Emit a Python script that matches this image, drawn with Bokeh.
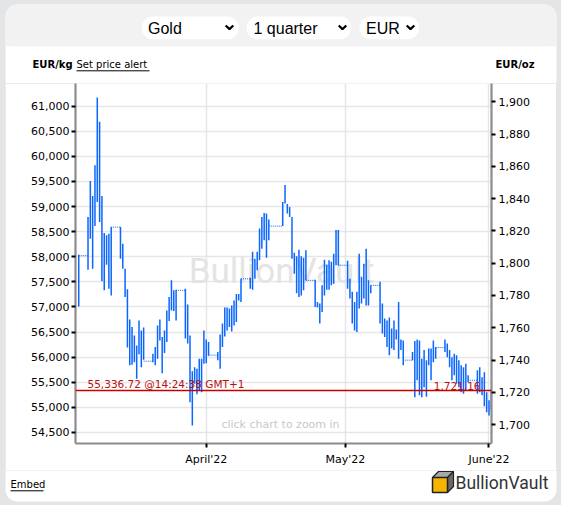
import pandas as pd
from bokeh.plotting import figure
from bokeh.layouts import column
from bokeh.models import (Range1d, LinearAxis, FixedTicker, NumeralTickFormatter, Span,
                          Label, ColumnDataSource, GlobalInlineStyleSheet)
from bokeh.core.properties import value
from bokeh.embed import file_html
from bokeh.resources import INLINE

# ---------------- data (EUR per kg, 12-hourly high/low strokes) ----------------
OZ_PER_KG = 32.1507466

block_start = ["2022-03-04 12:00", "2022-03-06 12:00", "2022-03-13 12:00", "2022-03-20 12:00",
               "2022-03-27 12:00", "2022-04-03 12:00", "2022-04-10 12:00", "2022-04-17 12:00",
               "2022-04-24 12:00", "2022-05-01 12:00", "2022-05-08 12:00", "2022-05-15 12:00",
               "2022-05-22 12:00", "2022-05-29 12:00"]

block_high = [
    [58040],
    [58790, 59510, 59210, 59820, 61170, 60690, 59210, 58470, 58430, 58460, 58590],
    [58590, 58260, 57760, 57350, 56750, 56600, 56430, 56230, 56730, 56530, 56590],
    [56070, 56200, 56630, 56750, 56400, 56530, 56930, 57200, 57530, 57330, 57340],
    [57360, 57050, 56430, 55720, 55800, 55770, 55970, 55970, 56530, 56350, 56300],
    [56100, 56450, 56670, 56990, 56990, 56970, 57030, 57130, 57260, 57260, 57560],
    [57580, 58100, 57960, 58100, 58560, 58790, 58870, 58860, 58740],
    [59090, 59430, 59050, 58990, 58790, 58080, 58010, 58140, 58010, 57980, 58130],
    [57540, 57100, 57070, 57430, 57940, 57840, 57930, 57900, 58060, 58530, 58530],
    [57920, 57560, 57300, 57100, 57300, 58060, 57600, 57860, 58160, 57530, 57430],
    [57500, 57070, 56770, 56730, 56790, 56570, 56730, 56550, 57100, 56350, 56330],
    [56100, 56320, 56350, 56330, 55970, 56140, 55940, 56170, 56170, 56330, 56200],
    [56350, 56270, 56140, 56000, 56070, 56040, 55940, 55840, 55800, 55870, 55640],
    [55740, 55800, 55600, 55700, 55300, 55140, 55370],
]
block_low = [
    [57010],
    [57740, 58360, 57760, 58610, 59090, 58690, 57510, 57330, 57840, 57360, 57230],
    [57960, 57760, 57200, 56190, 55840, 55850, 55900, 55570, 56060, 55800, 55950],
    [55900, 55840, 55970, 56330, 55680, 56080, 56300, 56720, 56930, 56920, 56730],
    [56370, 56270, 55100, 54640, 55470, 55260, 55340, 55300, 55870, 55880, 56030],
    [55940, 55770, 56200, 56410, 56530, 56600, 56510, 56630, 56700, 57130, 57100],
    [57360, 57340, 57560, 57730, 57930, 58160, 58330, 57980, 58330],
    [58610, 59060, 58860, 58790, 57960, 57660, 57270, 57200, 57230, 57330, 57530],
    [57000, 56990, 56670, 56900, 57230, 57340, 57340, 57430, 57460, 57830, 57830],
    [57360, 57170, 56670, 56530, 56500, 56970, 57070, 57170, 57030, 57030, 57270],
    [56670, 56470, 56400, 56200, 56040, 56170, 56140, 56350, 55970, 56140, 55840],
    [55940, 55200, 55540, 55240, 55200, 55400, 55210, 55840, 55540, 55900, 55970],
    [56100, 56000, 55800, 55540, 55640, 55470, 55400, 55300, 55270, 55340, 55500],
    [55270, 55300, 55240, 55020, 54900, 54840, 54940],
]
# flat level held over each market closure (weekends / Good Friday)
gap_level = [58020, 58590, 55920, 57330, 56040, 57560, 58610, 57530, 57830, 57430,
             55940, 56190, 55540]

last_price_kg = 55336.72
last_time_text = "@14:24:38 GMT+1"

month_tick_day = [31, 61, 92]          # days after 1 March 2022
month_tick_label = ["April'22", "May'22", "June'22"]
kg_ticks = list(range(54500, 61001, 500))
oz_ticks = list(range(1700, 1901, 20))
selector_text = ["Gold", "1 quarter", "EUR"]
unit_left, unit_right = "EUR/kg", "EUR/oz"

# ---------------- build sources ----------------
origin = pd.Timestamp("2022-03-01")
xs, his, los = [], [], []
firsts, lasts = [], []
for start, hs, ls in zip(block_start, block_high, block_low):
    t0 = (pd.Timestamp(start) - origin) / pd.Timedelta(days=1)
    ts = [t0 + 0.5 * i for i in range(len(hs))]
    xs += ts
    his += hs
    los += ls
    firsts.append(ts[0])
    lasts.append(ts[-1])

strokes = ColumnDataSource(dict(x=xs, hi=his, lo=los))
gaps = ColumnDataSource(dict(x0=lasts[:-1], x1=firsts[1:], y=gap_level))

BLUE = "#0a66ff"
TXT = "DejaVu Sans"
PAGE_BG = "#e4e5e7"
Y0, Y1 = 54280, 61450

# ======================= header figure (page y 0..83) =======================
top = figure(width=561, height=83, output_backend="svg", toolbar_location=None,
             x_range=Range1d(0, 561), y_range=Range1d(83, 0),
             x_axis_location=None, y_axis_location=None,
             min_border=0, min_border_left=0, min_border_right=0,
             min_border_top=0, min_border_bottom=0, frame_align=False,
             background_fill_color=PAGE_BG, border_fill_color=PAGE_BG,
             outline_line_color=None)
top.grid.visible = False
# card and grey selector band
top.quad(left=[5], right=[556], top=[4], bottom=[100], fill_color="white",
         line_color=None, border_radius=12)
top.quad(left=[5], right=[556], top=[4], bottom=[45.7], fill_color="#f2f2f2",
         line_color=None, border_radius=12)
top.quad(left=[5], right=[556], top=[30], bottom=[45.7], fill_color="#f2f2f2",
         line_color=None)
# selectors
top.quad(left=[141.3, 246, 358.9], right=[238, 350.6, 418.6], top=[16, 16, 16],
         bottom=[38.7, 38.7, 38.7], fill_color="white", line_color=None, border_radius=11)
top.text(x=[147.5, 253, 365.5], y=[27.8, 27.8, 27.8], text=selector_text,
         text_font=value("Liberation Sans"), text_font_size="16px", text_color="#000000",
         text_baseline="middle", text_align="left")
for cx in (229, 342, 410):
    top.line(x=[cx - 3.8, cx, cx + 3.8], y=[25, 28.6, 25], line_color="#000000",
             line_width=2.2)
# unit titles
top.text(x=[32], y=[63.5], text=[unit_left], text_font=value(TXT), text_font_size="10px",
         text_font_style="bold", text_baseline="middle", text_color="#000000")
top.text(x=[76], y=[63.5], text=["Set price alert"], text_font=value(TXT),
         text_font_size="10px", text_baseline="middle", text_color="#000000")
top.line(x=[76, 149], y=[70.3, 70.3], line_color="#000000", line_width=1)
top.text(x=[495], y=[63.5], text=[unit_right], text_font=value(TXT), text_font_size="10px",
         text_font_style="bold", text_baseline="middle", text_color="#000000")

# ======================= main chart (page y 83..470) =======================
p = figure(width=551, height=387, output_backend="svg", toolbar_location=None,
           x_range=Range1d(2.8, 92.54), y_range=Range1d(Y0, Y1),
           min_border_left=70, min_border_right=65, min_border_top=0, min_border_bottom=27,
           background_fill_color="white", border_fill_color="white", frame_align=False,
           outline_line_color=None, margin=(0, 5, 0, 5))
p.extra_y_ranges = {"oz": Range1d(Y0 / OZ_PER_KG, Y1 / OZ_PER_KG)}

xax = p.xaxis[0]
xax.ticker = FixedTicker(ticks=month_tick_day)
xax.major_label_overrides = {d: s for d, s in zip(month_tick_day, month_tick_label)}
yax = p.yaxis[0]
yax.ticker = FixedTicker(ticks=kg_ticks)
yax.formatter = NumeralTickFormatter(format="0,0")
rax = LinearAxis(y_range_name="oz", ticker=FixedTicker(ticks=oz_ticks),
                 formatter=NumeralTickFormatter(format="0,0"))
p.add_layout(rax, "right")

for ax in (xax, yax, rax):
    ax.axis_line_color = "#8c8c8c"
    ax.axis_line_width = 2.2
    ax.major_tick_line_color = "#000000"
    ax.major_tick_line_width = 2
    ax.major_tick_out = 4
    ax.major_tick_in = 0
    ax.minor_tick_line_color = None
    ax.major_label_text_font = TXT
    ax.major_label_text_font_size = "11px"
    ax.major_label_text_color = "#000000"
xax.major_label_standoff = 5
yax.major_label_standoff = 2
rax.major_label_standoff = 3

p.xgrid.ticker = FixedTicker(ticks=month_tick_day)
p.ygrid.ticker = FixedTicker(ticks=kg_ticks)
for g in (p.xgrid[0], p.ygrid[0]):
    g.grid_line_color = "#e6e6e6"
    g.grid_line_width = 1.5

FL, FB = 75, 443   # frame left / bottom in page pixels


def sx(px):
    return px - FL


def sy(py):
    return FB - py


# watermark
p.add_layout(Label(x=sx(281), y=sy(271), x_units="screen", y_units="screen",
                   text="BullionVault", text_font="Roboto", text_font_size="35px",
                   text_color="#e4e4e4", text_align="center", text_baseline="middle",
                   level="underlay"))

# data marks
p.segment(x0="x0", y0="y", x1="x1", y1="y", source=gaps, line_color=BLUE, line_width=1,
          line_dash="1 1")
p.segment(x0="x", y0="lo", x1="x", y1="hi", source=strokes, line_color=BLUE, line_width=1.5)

# last price line and labels
p.add_layout(Span(location=last_price_kg, dimension="width", line_color="#cc0000",
                  line_width=1.5))
p.add_layout(Label(x=sx(87), y=last_price_kg, x_units="screen", y_units="data",
                   text=f"{last_price_kg:,.2f} {last_time_text}", text_font=TXT,
                   text_font_size="10.5px", text_color="#b80f0f", text_baseline="bottom"))
p.add_layout(Label(x=sx(480), y=last_price_kg, x_units="screen", y_units="data",
                   text=f"{last_price_kg / OZ_PER_KG:,.2f}", text_font=TXT,
                   text_font_size="10.5px", text_color="#b80f0f", text_baseline="bottom",
                   text_align="right"))

p.add_layout(Label(x=sx(280), y=sy(423.5), x_units="screen", y_units="screen",
                   text="click chart to zoom in", text_font=TXT, text_font_size="11px",
                   text_color="#c8c8c8", text_align="center", text_baseline="middle"))

# ======================= footer (page y 470..505) =======================
bot = figure(width=561, height=35, output_backend="svg", toolbar_location=None,
             x_range=Range1d(0, 561), y_range=Range1d(505, 470),
             x_axis_location=None, y_axis_location=None,
             min_border=0, min_border_left=0, min_border_right=0,
             min_border_top=0, min_border_bottom=0, frame_align=False,
             background_fill_color=PAGE_BG, border_fill_color=PAGE_BG,
             outline_line_color=None)
bot.grid.visible = False
bot.quad(left=[5], right=[556], top=[440], bottom=[501], fill_color="white",
         line_color=None, border_radius=12)
bot.text(x=[10], y=[484], text=["Embed"], text_font=value(TXT), text_font_size="10px",
         text_baseline="middle", text_color="#000000")
bot.line(x=[10, 43], y=[490.3, 490.3], line_color="#000000", line_width=1)
# logo cube
bot.patch(x=[432, 438, 453, 447], y=[477, 471, 471, 477], fill_color="#a8a8a8",
          line_color="#222222", line_width=1.2)
bot.patch(x=[447, 453, 453, 447], y=[477, 471, 486, 492], fill_color="#6a6a6a",
          line_color="#222222", line_width=1.2)
bot.quad(left=[432], right=[447], top=[477], bottom=[492], fill_color="#f5b400",
         line_color="#222222", line_width=1.5)
bot.text(x=[455], y=[482.5], text=["BullionVault"], text_font=value("Roboto"),
         text_font_size="17.5px", text_color="#333333", text_baseline="middle")

page = column(top, p, bot, spacing=0)
page.stylesheets = [GlobalInlineStyleSheet(css="body{background:#e4e5e7;}")]

open("out.html", "w").write(file_html(page, INLINE))
